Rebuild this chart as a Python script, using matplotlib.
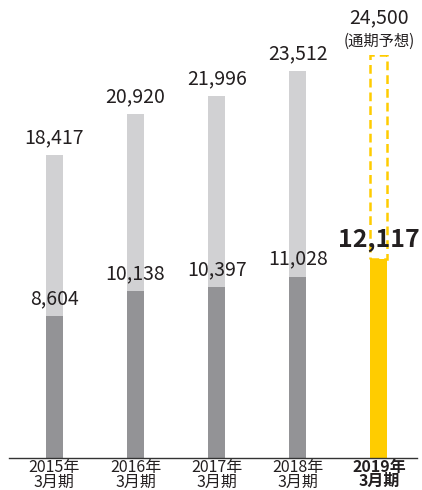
import matplotlib
matplotlib.use('Agg')
import matplotlib.pyplot as plt
from matplotlib.patches import Rectangle

plt.rcParams['font.family'] = ['Noto Sans CJK JP', 'DejaVu Sans']

# 通期 / 上期 (百万円)
years = ['2015年\n3月期', '2016年\n3月期', '2017年\n3月期', '2018年\n3月期', '2019年\n3月期']
full_year = [18417, 20920, 21996, 23512]
first_half = [8604, 10138, 10397, 11028, 12117]
forecast = 24500

light = '#d1d1d3'
dark = '#939396'
yellow = '#ffcc00'
txt = '#231f20'

fig = plt.figure(figsize=(4.22, 4.90), dpi=100)
ax = fig.add_axes([9/422, 32/490, 408/422, 403/490])

x = list(range(len(years)))
w = 0.21

ax.bar(x[:4], full_year, width=w, color=light, zorder=1)
ax.bar(x[:4], first_half[:4], width=w, color=dark, zorder=2)
ax.bar(x[4], first_half[4], width=w, color=yellow, zorder=2)
# 予想の点線枠
ax.add_patch(Rectangle((x[4] - w/2, first_half[4]), w, forecast - first_half[4],
                       fill=False, edgecolor=yellow, linestyle=(0, (3.5, 2)), linewidth=1.8, zorder=3))

for i, v in enumerate(full_year):
    ax.annotate(f'{v:,}', (x[i], v), xytext=(0, 5), textcoords='offset points',
                ha='center', va='bottom', fontsize=14, color=txt)
for i, v in enumerate(first_half[:4]):
    ax.annotate(f'{v:,}', (x[i], v), xytext=(0, 5), textcoords='offset points',
                ha='center', va='bottom', fontsize=14, color=txt)
ax.annotate(f'{first_half[4]:,}', (x[4], first_half[4]), xytext=(0, 5), textcoords='offset points',
            ha='center', va='bottom', fontsize=18, fontweight='bold', color=txt, zorder=5)
ax.annotate('(通期予想)', (x[4], forecast), xytext=(0, 4), textcoords='offset points',
            ha='center', va='bottom', fontsize=11, color=txt)
ax.annotate(f'{forecast:,}', (x[4], forecast), xytext=(0, 19), textcoords='offset points',
            ha='center', va='bottom', fontsize=14, color=txt)

ax.set_xlim(-0.56, 4.47)
ax.set_ylim(0, forecast)
ax.set_xticks(x)
ax.set_xticklabels(years, fontsize=11.5, color=txt, linespacing=0.8)
ax.get_xticklabels()[4].set_fontweight('bold')
ax.tick_params(axis='x', length=0, pad=1)
ax.set_yticks([])
for s in ['top', 'left', 'right']:
    ax.spines[s].set_visible(False)
ax.spines['bottom'].set_color('#333333')
ax.spines['bottom'].set_linewidth(1)

fig.savefig('out.png', dpi=100)
